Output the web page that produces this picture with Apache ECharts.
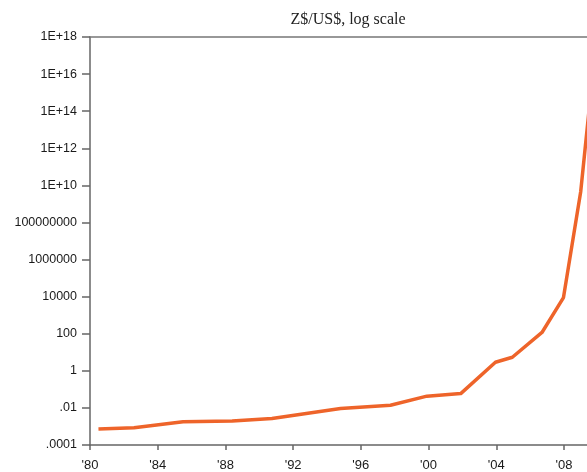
<!DOCTYPE html>
<html>
<head>
<meta charset="utf-8">
<script src="https://cdn.jsdelivr.net/npm/echarts@6/dist/echarts.min.js"></script>
<style>
  html, body { margin: 0; padding: 0; background: #fff; }
  #zim-chart-main { width: 587px; height: 472px; }
</style>
</head>
<body>
<div id="zim-chart-main"></div>
<script>
// Z$ per US$ (log scale)
const years = [1980.5, 1982.6, 1985.5, 1988.4, 1990.75, 1994.8, 1997.75, 1999.9, 2001.9, 2003.95, 2004.95, 2006.7, 2007.97, 2008.99, 2009.7];
const rates = [7.2e-4, 8.5e-4, 1.8e-3, 1.95e-3, 2.7e-3, 9.3e-3, 1.4e-2, 4.3e-2, 5.9e-2, 2.9, 5.4, 117, 8900, 4.7e9, 1e16];
const xTicks = [1980, 1984, 1988, 1992, 1996, 2000, 2004, 2008];
const yExponents = [-4, -2, 0, 2, 4, 6, 8, 10, 12, 14, 16, 18];

const labelFont = '"Liberation Sans", Arial, sans-serif';

// exponent -> label text like in the original (.0001, .01, 1, 100 ... 1E+10)
function expLabel(e) {
    if (yExponents.indexOf(e) < 0) return '';
    if (e >= 10) return '1E+' + e;
    if (e >= 0) return '1' + '0'.repeat(e);
    return '.' + '0'.repeat(-e - 1) + '1';
}

const chart = echarts.init(document.getElementById('zim-chart-main'), null, { renderer: 'canvas' });

chart.setOption({
    animation: false,
    title: {
        text: 'Z$/US$, log scale',
        left: 343,
        top: 7,
        textAlign: 'center',
        textStyle: { fontFamily: '"Liberation Serif", "Times New Roman", serif', fontSize: 16, fontWeight: 'normal', color: '#222' }
    },
    grid: { left: 90, right: 0, top: 37, bottom: 27, containLabel: false },
    xAxis: [{
        type: 'value',
        min: 1980,
        max: 2009.36,
        interval: 4,
        axisLine: { show: true, onZero: false, lineStyle: { color: '#666', width: 1.5 } },
        axisTick: { show: true, length: 5, lineStyle: { color: '#666', width: 1.5 } },
        splitLine: { show: false },
        axisLabel: {
            margin: 14,
            showMaxLabel: false,
            fontFamily: labelFont,
            fontSize: 13,
            color: '#1a1a1a',
            formatter: v => xTicks.indexOf(v) >= 0 ? "'" + String(v).slice(2) : ''
        }
    }, {
        type: 'value',
        position: 'top',
        min: 1980,
        max: 2009.36,
        axisLine: { show: true, onZero: false, lineStyle: { color: '#777', width: 1.5 } },
        axisTick: { show: false },
        axisLabel: { show: false },
        splitLine: { show: false }
    }],
    yAxis: {
        type: 'value',
        min: -4,
        max: 18,
        interval: 2,
        axisLine: { show: true, onZero: false, lineStyle: { color: '#666', width: 1.5 } },
        axisTick: { show: true, length: 8, lineStyle: { color: '#666', width: 1.5 } },
        splitLine: { show: false },
        axisLabel: {
            margin: 13,
            fontFamily: labelFont,
            fontSize: 12.5,
            color: '#1a1a1a',
            formatter: v => expLabel(v)
        }
    },
    series: [{
        type: 'line',
        xAxisIndex: 0,
        data: years.map((y, i) => [y, Math.log10(rates[i])]),
        showSymbol: false,
        smooth: false,
        clip: true,
        lineStyle: { color: '#EE642A', width: 3.5, join: 'round' }
    }]
});

window.addEventListener('resize', () => chart.resize());
</script>
</body>
</html>
